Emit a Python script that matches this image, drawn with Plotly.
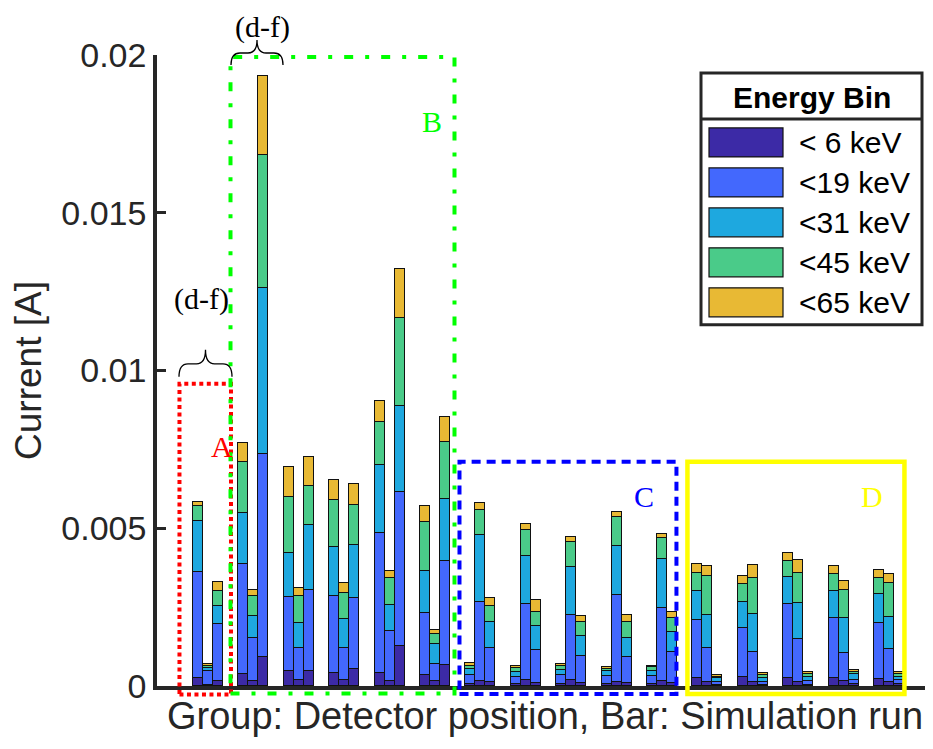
import plotly.graph_objects as go

# ---------------- data ----------------
GROUPS = list(range(1, 17))          # detector positions
RUNS = [1, 2, 3]                     # simulation runs per group
ENERGY_BINS = ["< 6 keV", "<19 keV", "<31 keV", "<45 keV", "<65 keV"]

# values in A; order: group1 run1, run2, run3, group2 run1, ...
E6 = [0.00024, 0.00003, 0.00017, 0.00039, 0.00016, 0.00091,
      0.00047, 0.00019, 0.00047, 0.00042, 0.00019, 0.00053,
      0.00040, 0.00015, 0.00126, 0.00036, 0.00016, 0.00067,
      0.00006, 0.00015, 0.00012, 0.00005, 0.00018, 0.00010,
      0.00006, 0.00019, 0.00010, 0.00006, 0.00013, 0.00009,
      0.00006, 0.00015, 0.00010, 0.00026, 0.00014, 0.00003,
      0.00029, 0.00014, 0.00003, 0.00026, 0.00014, 0.00003,
      0.00026, 0.00015, 0.00005, 0.00023, 0.00013, 0.00006]
E19 = [0.00338, 0.00044, 0.00178, 0.00348, 0.00135, 0.00643,
       0.00234, 0.00103, 0.00258, 0.00243, 0.00101, 0.00226,
       0.00446, 0.00158, 0.00490, 0.00194, 0.00055, 0.00328,
       0.00029, 0.00250, 0.00107, 0.00023, 0.00241, 0.00104,
       0.00028, 0.00205, 0.00084, 0.00026, 0.00275, 0.00083,
       0.00026, 0.00231, 0.00099, 0.00183, 0.00106, 0.00010,
       0.00155, 0.00093, 0.00010, 0.00234, 0.00135, 0.00012,
       0.00188, 0.00089, 0.00015, 0.00176, 0.00104, 0.00013]
E31 = [0.00160, 0.00009, 0.00060, 0.00160, 0.00070, 0.00528,
       0.00142, 0.00078, 0.00204, 0.00157, 0.00092, 0.00167,
       0.00213, 0.00083, 0.00270, 0.00134, 0.00062, 0.00199,
       0.00019, 0.00214, 0.00084, 0.00017, 0.00152, 0.00077,
       0.00016, 0.00153, 0.00065, 0.00015, 0.00157, 0.00060,
       0.00015, 0.00158, 0.00061, 0.00092, 0.00105, 0.00012,
       0.00082, 0.00121, 0.00013, 0.00084, 0.00115, 0.00013,
       0.00088, 0.00113, 0.00017, 0.00092, 0.00102, 0.00010]
E45 = [0.00049, 0.00008, 0.00047, 0.00164, 0.00063, 0.00422,
       0.00177, 0.00084, 0.00124, 0.00149, 0.00084, 0.00127,
       0.00137, 0.00086, 0.00282, 0.00157, 0.00031, 0.00178,
       0.00010, 0.00079, 0.00049, 0.00012, 0.00082, 0.00045,
       0.00014, 0.00081, 0.00044, 0.00008, 0.00091, 0.00050,
       0.00012, 0.00064, 0.00046, 0.00057, 0.00124, 0.00005,
       0.00057, 0.00113, 0.00008, 0.00051, 0.00094, 0.00010,
       0.00052, 0.00087, 0.00008, 0.00052, 0.00106, 0.00008]
E65 = [0.00012, 0.00005, 0.00029, 0.00060, 0.00019, 0.00250,
       0.00094, 0.00027, 0.00093, 0.00062, 0.00030, 0.00066,
       0.00067, 0.00023, 0.00155, 0.00050, 0.00014, 0.00080,
       0.00008, 0.00023, 0.00028, 0.00005, 0.00019, 0.00037,
       0.00007, 0.00015, 0.00020, 0.00004, 0.00017, 0.00024,
       0.00005, 0.00015, 0.00019, 0.00030, 0.00030, 0.00006,
       0.00027, 0.00043, 0.00006, 0.00026, 0.00042, 0.00005,
       0.00027, 0.00029, 0.00006, 0.00025, 0.00030, 0.00006]

Y_TICKS = [0, 0.005, 0.01, 0.015, 0.02]
Y_TICK_LABELS = ["0", "0.005", "0.01", "0.015", "0.02"]

# ---------------- style ----------------
COLORS = ["#3C2AA6", "#4368FD", "#1EA8DF", "#4ACB89", "#E8B934"]
AX = "#262626"
SANS = "Liberation Sans, Arial, Helvetica, sans-serif"
SERIF = "Liberation Serif, Times New Roman, serif"
BAR_W = 0.22
XMIN, XMAX = -0.123, 16.97
YMIN, YMAX = 0.0, 0.02
OFF = 8                      # page body margin in the browser
W, H = 925, 741
ML, MR, MT, MB = 149, 0, 47, 62.5

x_pos = [g + (r - 2) * BAR_W for g in GROUPS for r in RUNS]
series = [E6, E19, E31, E45, E65]

fig = go.Figure()
for name, vals, col in zip(ENERGY_BINS, series, COLORS):
    fig.add_trace(go.Bar(
        x=x_pos, y=vals, width=BAR_W, name=name,
        marker=dict(color=col, line=dict(color="#111111", width=1.5)),
        showlegend=False,
    ))


def paper(px, py):
    """screen pixel position -> paper fraction"""
    fx, fy = px - OFF, py - OFF
    return ((fx - ML) / (W - ML - MR), (H - MB - fy) / (H - MT - MB))


def xd(v):
    return (v - XMIN) / (XMAX - XMIN)


def yd(v):
    return (v - YMIN) / (YMAX - YMIN)


shapes = []
annotations = []

# ---- highlighted regions (data units) ----
REGIONS = [
    # label, x0, x1, y0, y1, colour, dash, width, label pos (data)
    ("A", 0.372, 1.507, -0.00027, 0.00958, "#FF0000", "4px,3.5px", 4, (1.30, 0.00760)),
    ("B", 1.496, 6.430, -0.00024, 0.01994, "#00FF00", "9px,12px,4px,12px", 4, (5.93, 0.01790)),
    ("C", 6.540, 11.319, -0.00025, 0.00711, "#0000FF", "9px,6px", 4, (10.61, 0.00600)),
    ("D", 11.561, 16.341, -0.00025, 0.00711, "#FFFF00", "solid", 4.5, (15.62, 0.00600)),
]
for lab, x0, x1, y0, y1, col, dash, lw, (tx, ty) in REGIONS:
    shapes.append(dict(type="rect", xref="x domain", yref="y domain",
                       x0=xd(x0), x1=xd(x1), y0=yd(y0), y1=yd(y1),
                       line=dict(color=col, width=lw, dash=dash),
                       fillcolor="rgba(0,0,0,0)", layer="above"))
    annotations.append(dict(text=lab, xref="x domain", yref="y domain",
                            x=xd(tx), y=yd(ty), xanchor="center", yanchor="middle",
                            showarrow=False,
                            font=dict(family=SERIF, size=30, color=col)))


# ---- curly braces with "(d-f)" ----
def brace(x0, x1, yb, ytip):
    xm = (x0 + x1) / 2
    ym = yb - (yb - ytip) * 0.48
    r = 9

    def P(x, y):
        px, py = paper(x, y)
        return f"{px:.5f},{py:.5f}"
    d = (f"M {P(x0, yb)} Q {P(x0, ym)} {P(x0 + r, ym)} L {P(xm - r, ym)} "
         f"Q {P(xm, ym)} {P(xm, ytip)} Q {P(xm, ym)} {P(xm + r, ym)} "
         f"L {P(x1 - r, ym)} Q {P(x1, ym)} {P(x1, yb)}")
    return dict(type="path", xref="paper", yref="paper", path=d,
                line=dict(color="#000000", width=1.3), layer="above")


shapes.append(brace(179, 232, 377, 350))
shapes.append(brace(231, 283, 65, 40))
for (cx, cy) in [(201, 299), (262, 27)]:
    px, py = paper(cx, cy)
    annotations.append(dict(text="(d-f)", xref="paper", yref="paper", x=px, y=py,
                            xanchor="center", yanchor="middle", showarrow=False,
                            font=dict(family=SERIF, size=30, color="#000000")))

# ---- legend box "Energy Bin" ----
lx0, ly0 = paper(701, 73)
lx1, ly1 = paper(922, 325)
shapes.append(dict(type="rect", xref="paper", yref="paper", x0=lx0, x1=lx1, y0=ly1, y1=ly0,
                   line=dict(color=AX, width=3), fillcolor="white", layer="above"))
_, sy = paper(701, 119)
shapes.append(dict(type="line", xref="paper", yref="paper", x0=lx0, x1=lx1, y0=sy, y1=sy,
                   line=dict(color=AX, width=3), layer="above"))
tx, ty = paper(811.5, 98)
annotations.append(dict(text="<b>Energy Bin</b>", xref="paper", yref="paper", x=tx, y=ty,
                        xanchor="center", yanchor="middle", showarrow=False,
                        font=dict(family=SANS, size=30, color="#000000")))
for i, (name, col) in enumerate(zip(ENERGY_BINS, COLORS)):
    cy = 142.5 + 40 * i
    a0, b0 = paper(709, cy - 14.5)
    a1, b1 = paper(783, cy + 14.5)
    shapes.append(dict(type="rect", xref="paper", yref="paper", x0=a0, x1=a1, y0=b1, y1=b0,
                       fillcolor=col, line=dict(color="#111111", width=1.2), layer="above"))
    lx, lyy = paper(797, cy)
    annotations.append(dict(text=name.replace("<", "&lt;"), xref="paper", yref="paper",
                            x=lx, y=lyy, xanchor="left", yanchor="middle", showarrow=False,
                            font=dict(family=SANS, size=30, color="#000000")))

fig.update_layout(
    width=W, height=H,
    margin=dict(l=ML, r=MR, t=MT, b=MB),
    paper_bgcolor="white", plot_bgcolor="white",
    barmode="stack", bargap=0,
    font=dict(family=SANS, color=AX),
    shapes=shapes, annotations=annotations,
    xaxis=dict(range=[XMIN, XMAX], showgrid=False, zeroline=False,
               showticklabels=False, ticks="", showline=True,
               linecolor=AX, linewidth=3.5,
               title=dict(text="Group: Detector position, Bar: Simulation run",
                          font=dict(size=38, color=AX), standoff=15)),
    yaxis=dict(range=[YMIN, YMAX], showgrid=False, zeroline=False,
               tickvals=Y_TICKS, ticktext=Y_TICK_LABELS,
               ticks="inside", ticklen=9, tickwidth=3, tickcolor=AX,
               tickfont=dict(size=34, color=AX),
               showline=True, linecolor=AX, linewidth=3.5,
               title=dict(text="Current [A]", font=dict(size=37, color=AX), standoff=16)),
)

fig.write_html("out.html")
